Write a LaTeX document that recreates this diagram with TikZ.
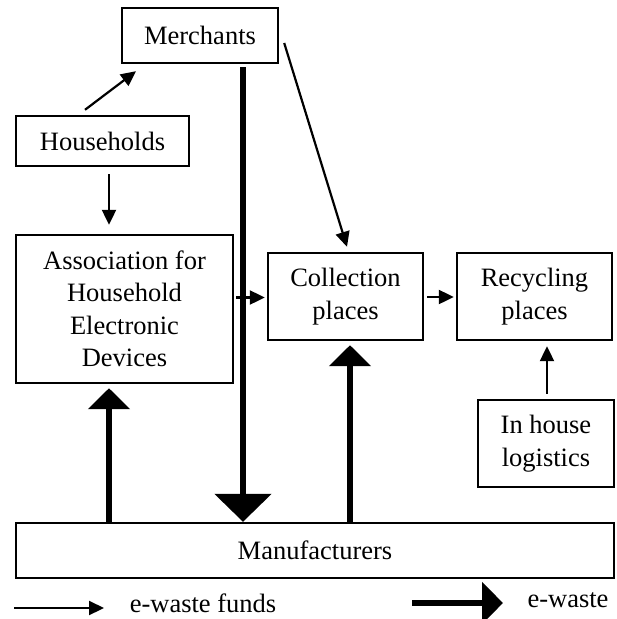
\documentclass[tikz,border=0pt]{standalone}
\usepackage{fontspec}
\setmainfont{Liberation Serif}
\usetikzlibrary{arrows.meta,calc}
\tikzset{
  boxnode/.style={draw, line width=2.4pt, align=center, inner sep=2pt,
    font=\fontsize{26.5}{32.5}\selectfont},
  lbl/.style={inner sep=0pt, font=\fontsize{26.5}{32.5}\selectfont},
  funds/.style={line width=2.2pt, -{Triangle[length=15pt,width=14pt]}},
  ewaste/.style={line width=6pt, -{Triangle[length=21pt,width=41pt]}},
  bigwaste/.style={line width=6pt, -{Triangle[length=28pt,width=56pt]}},
}
\begin{document}
\begin{tikzpicture}[x=1pt,y=-1pt]
\useasboundingbox (0,0) rectangle (617,619);
\node[boxnode, minimum width=156pt, minimum height=55pt] (merch) at (200,35.5) {Merchants};
\node[boxnode, minimum width=173pt, minimum height=50pt] (house) at (102.5,141) {Households};
\node[boxnode, minimum width=217pt, minimum height=148pt] (assoc) at (124.5,309) {Association for\\Household\\Electronic\\Devices};
\node[boxnode, minimum width=155pt, minimum height=87pt] (coll) at (345.5,296.5) {Collection\\places};
\node[boxnode, minimum width=155pt, minimum height=87pt] (recyc) at (534.5,296.5) {Recycling\\places};
\node[boxnode, minimum width=136pt, minimum height=87pt] (inhouse) at (546,443.5) {In house\\logistics};
\node[boxnode, minimum width=598pt, minimum height=55pt] (manuf) at (315,550.5) {Manufacturers};

% thin arrows (e-waste funds)
\draw[funds] ($(house.north)+(-17.5,-5)$) -- ($(merch.south)+(-64,7)$);
\draw[funds] ($(house.south)+(6.5,7)$) coordinate (h1) -- (h1 |- {$(assoc.north)+(0,-9)$});
\draw[funds] ($(merch.east)+(5,7.5)$) -- ($(coll.north)+(1.5,-5)$);
\draw[funds] ($(assoc.east)+(2,-11.5)$) coordinate (a1) -- (a1 -| {$(coll.west)+(-2,0)$});
\draw[funds] ($(coll.east)+(3,0.5)$) coordinate (c1) -- (c1 -| {$(recyc.west)+(-2,0)$});
\draw[funds] ($(inhouse.north)+(1,-5)$) coordinate (i1) -- (i1 |- {$(recyc.south)+(0,5)$});

% thick arrows (e-waste)
\draw[bigwaste] ($(merch.south)+(43,3)$) coordinate (m1) -- (m1 |- manuf.north);
\draw[ewaste] ($(manuf.north)+(-206,0)$) coordinate (f1) -- (f1 |- {$(assoc.south)+(0,4)$});
\draw[ewaste] ($(manuf.north)+(35,0)$) coordinate (f2) -- (f2 |- {$(coll.south)+(0,4)$});

% legend
\coordinate (lf1) at (14,608);
\coordinate (lf2) at (104,608);
\draw[funds] (lf1) -- (lf2);
\node[lbl] (lfunds) at (203,603) {e-waste funds};
\coordinate (lw1) at (412,603);
\coordinate (lw2) at (503,603);
\draw[ewaste] (lw1) -- (lw2);
\node[lbl] (lwaste) at (568,600) {e-waste};
\end{tikzpicture}
\end{document}
